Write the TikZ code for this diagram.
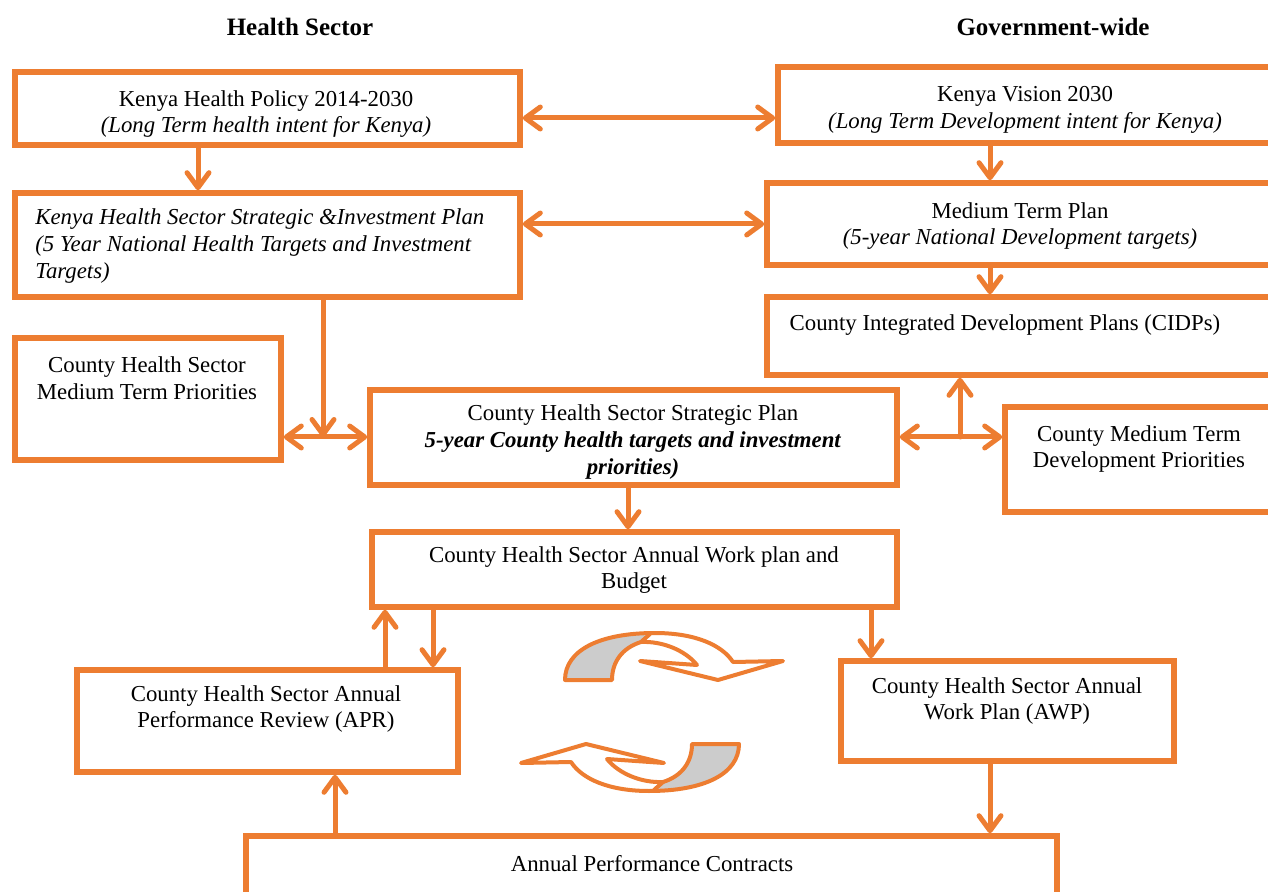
\documentclass[tikz,border=0pt]{standalone}
\usepackage{fontspec}
\setmainfont{Liberation Serif}
\usetikzlibrary{arrows.meta,fit}
\definecolor{frameorange}{RGB}{237,125,49}
\definecolor{bandgray}{RGB}{204,204,204}

\begin{document}
\begin{tikzpicture}[x=0.5pt,y=-0.5pt,
  box/.style={draw=frameorange, line width=2.8pt, inner sep=0pt},
  txt/.style={font=\fontsize{11.4}{13.3}\selectfont, align=center, inner sep=0pt},
  head/.style={font=\fontsize{12.5}{14}\selectfont\bfseries, inner sep=0pt},
  barb/.tip={Straight Barb[round,length=7.5pt,width=11pt]},
  link/.style={draw=frameorange, line width=2.5pt, line cap=round, -barb},
  both/.style={draw=frameorange, line width=2.5pt, line cap=round, barb-barb},
  cycleline/.style={draw=frameorange, line width=2pt, line join=round},
]
\useasboundingbox (0,0) rectangle (1268,892);
\clip (0,0) rectangle (1268,892);

% column headings
\node[head] (hs) at (300,27) {Health Sector};
\node[head] (gw) at (1053,27) {Government-wide};

% frames
\node[box, fit={(15,72)(520,145)}] (b1) {};
\node[box, fit={(778,67)(1290,143)}] (b2) {};
\node[box, fit={(15,193)(520,297)}] (b3) {};
\node[box, fit={(767,183)(1290,265)}] (b4) {};
\node[box, fit={(767,297)(1290,375)}] (b5) {};
\node[box, fit={(15,338)(281,460)}] (b6) {};
\node[box, fit={(370,390)(897,485)}] (b7) {};
\node[box, fit={(1005,407)(1290,512)}] (b8) {};
\node[box, fit={(372,532)(897,607)}] (b9) {};
\node[box, fit={(77,670)(458,772)}] (b10) {};
\node[box, fit={(841,661)(1174,761)}] (b11) {};
\node[box, fit={(246,836)(1057,930)}] (b12) {};

% texts
\node[txt] (t1) at (266,114) {Kenya Health Policy 2014-2030\\\textit{(Long Term health intent for Kenya)}};
\node[txt] (t2) at (1025,110) {Kenya Vision 2030\\\textit{(Long Term Development intent for Kenya)}};
\node[txt, align=left, anchor=west] (t3) at (35,246) {\itshape Kenya Health Sector Strategic \&Investment Plan\\\itshape (5 Year National Health Targets and Investment\\\itshape Targets)};
\node[txt] (t4) at (1020,226) {Medium Term Plan\\\textit{(5-year National Development targets)}};
\node[txt] (t5) at (1005,325) {County Integrated Development Plans (CIDPs)};
\node[txt] (t6) at (147,378) {County Health Sector\\Medium Term Priorities};
\node[txt] (t7) at (633,442) {County Health Sector Strategic Plan\\\textbf{\textit{5-year County health targets and investment}}\\\textbf{\textit{priorities)}}};
\node[txt] (t8) at (1139,449) {County Medium Term\\Development Priorities};
\node[txt] (t9) at (634,570) {County Health Sector Annual Work plan and\\Budget};
\node[txt] (t10) at (266,709) {County Health Sector Annual\\Performance Review (APR)};
\node[txt] (t11) at (1007,701) {County Health Sector Annual\\Work Plan (AWP)};
\node[txt] (t12) at (652,864) {Annual Performance Contracts};

% junctions
\coordinate (j1) at (323,437);
\coordinate (j2) at (960,437);

% connectors
\draw[both] (b1.east |- 0,118) -- (b2.west |- 0,118);
\draw[link] (b1.south -| 198,0) -- (b3.north -| 198,0);
\draw[both] (b3.east |- 0,224) -- (b4.west |- 0,224);
\draw[link] (b2.south -| 990,0) -- (b4.north -| 990,0);
\draw[link] (b4.south -| 990,0) -- (b5.north -| 990,0);
\draw[link] (b3.south -| j1) -- (j1);
\draw[both] (b6.east |- j1) -- (b7.west |- j1);
\draw[both] (b7.east |- j2) -- (b8.west |- j2);
\draw[link] (j2) -- (b5.south -| j2);
\draw[link] (b7.south -| 628,0) -- (b9.north -| 628,0);
\draw[link] (b9.south -| 433,0) -- (b10.north -| 433,0);
\draw[link] (b10.north -| 385,0) -- (b9.south -| 385,0);
\draw[link] (b9.south -| 871,0) -- (b11.north -| 871,0);
\draw[link] (b11.south -| 990,0) -- (b12.north -| 990,0);
\draw[link] (b12.north -| 335,0) -- (b10.south -| 335,0);

% the two curved cycle arrows
\def\cyclearrow#1{%
  \begin{scope}[#1]
    \fill[white]
      (565,680) .. controls (565,650) and (600,633) .. (655,633)
      .. controls (695,633) and (722,645) .. (733,662)
      -- (783,661) -- (718,680) -- (640,661) -- (697,665)
      .. controls (685,650) and (662,641) .. (641,642)
      .. controls (622,648) and (612,662) .. (612,680) -- cycle;
    \fill[bandgray]
      (565,680) .. controls (565,650) and (600,633) .. (650,633)
      -- (641,642)
      .. controls (622,648) and (612,662) .. (612,680) -- cycle;
    \draw[cycleline]
      (565,680) .. controls (565,650) and (600,633) .. (655,633)
      .. controls (695,633) and (722,645) .. (733,662)
      -- (783,661) -- (718,680) -- (640,661) -- (697,665)
      .. controls (685,650) and (662,641) .. (641,642)
      .. controls (622,648) and (612,662) .. (612,680) -- cycle;
    \draw[cycleline] (641,642) -- (650,634);
  \end{scope}}
\cyclearrow{}
\cyclearrow{rotate around={180:(652,712)}}
\end{tikzpicture}
\end{document}
